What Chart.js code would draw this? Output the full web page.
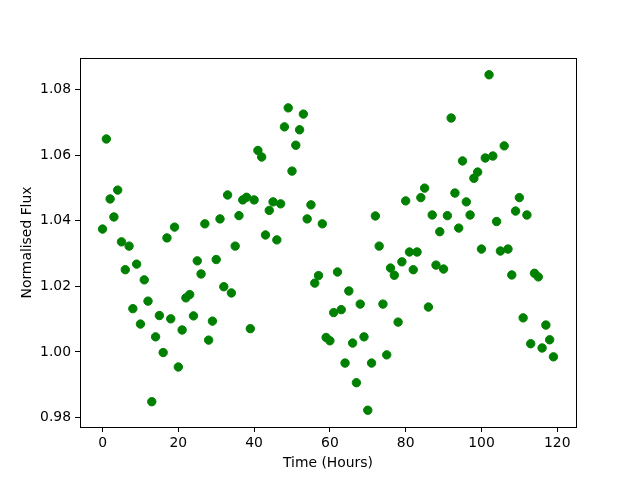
<!DOCTYPE html>
<html>
<head>
<meta charset="utf-8">
<script src="https://cdn.jsdelivr.net/npm/chart.js@4.4.1/dist/chart.umd.min.js"></script>
<style>
  html, body { margin: 0; padding: 0; background: #fff; }
  #wrap { width: 640px; height: 480px; }
</style>
</head>
<body>
<div id="wrap"><canvas id="c" width="640" height="480"></canvas></div>
<script>
const hours = [0,1,2,3,4,5,6,7,8,9,10,11,12,13,14,15,16,17,18,19,
  20,21,22,23,24,25,26,27,28,29,30,31,32,33,34,35,36,37,38,39,
  40,41,42,43,44,45,46,47,48,49,50,51,52,53,54,55,56,57,58,59,
  60,61,62,63,64,65,66,67,68,69,70,71,72,73,74,75,76,77,78,79,
  80,81,82,83,84,85,86,87,88,89,90,91,92,93,94,95,96,97,98,99,
  100,101,102,103,104,105,106,107,108,109,110,111,112,113,114,115,116,117,118,119];

const flux = [1.0375,1.0650,1.0467,1.0412,1.0494,1.0336,1.0251,1.0323,1.0132,1.0268,
  1.0085,1.0220,1.0155,0.9848,1.0046,1.0111,0.9998,1.0348,1.0101,1.0381,
  0.9954,1.0067,1.0165,1.0175,1.0110,1.0278,1.0238,1.0391,1.0036,1.0094,
  1.0282,1.0406,1.0199,1.0479,1.0180,1.0323,1.0416,1.0464,1.0472,1.0071,
  1.0464,1.0615,1.0595,1.0357,1.0432,1.0458,1.0342,1.0452,1.0687,1.0745,
  1.0552,1.0631,1.0678,1.0726,1.0406,1.0449,1.0210,1.0233,1.0391,1.0044,
  1.0034,1.0120,1.0244,1.0129,0.9966,1.0186,1.0027,0.9906,1.0146,1.0046,
  0.9822,0.9966,1.0415,1.0323,1.0146,0.9991,1.0256,1.0234,1.0091,1.0275,
  1.0461,1.0305,1.0251,1.0305,1.0471,1.0500,1.0137,1.0418,1.0265,1.0367,
  1.0253,1.0416,1.0714,1.0485,1.0378,1.0583,1.0458,1.0418,1.0530,1.0549,
  1.0314,1.0592,1.0846,1.0598,1.0398,1.0308,1.0629,1.0314,1.0235,1.0430,
  1.0471,1.0104,1.0418,1.0025,1.0240,1.0229,1.0012,1.0082,1.0037,0.9985];

const xTicks = [0, 20, 40, 60, 80, 100, 120];
const yTicks = [0.98, 1.00, 1.02, 1.04, 1.06, 1.08];

const points = hours.map((h, i) => ({ x: h, y: flux[i] }));

Chart.defaults.font.family = '"DejaVu Sans", sans-serif';
Chart.defaults.font.size = 13.9;
Chart.defaults.color = '#000';

const frame = {
  id: 'frame',
  afterDraw(chart) {
    const a = chart.chartArea, ctx = chart.ctx;
    ctx.save();
    ctx.strokeStyle = '#000';
    ctx.lineWidth = 1;
    ctx.strokeRect(Math.round(a.left) + 0.5, Math.round(a.top) + 0.5,
      Math.round(a.right - a.left), Math.round(a.bottom - a.top));
    ctx.restore();
  }
};

new Chart(document.getElementById('c'), {
  type: 'scatter',
  data: {
    datasets: [{
      data: points,
      backgroundColor: '#008000',
      borderColor: '#008000',
      borderWidth: 1,
      pointRadius: 4.2,
      pointHoverRadius: 4.2
    }]
  },
  options: {
    responsive: false,
    animation: false,
    events: [],
    layout: { padding: { left: 0, right: 64, top: 58, bottom: 0 } },
    plugins: { legend: { display: false }, tooltip: { enabled: false } },
    scales: {
      x: {
        type: 'linear',
        min: -5.95,
        max: 124.95,
        afterBuildTicks(s) { s.ticks = xTicks.map(v => ({ value: v })); },
        afterFit(s) { s.height = 53; },
        grid: { drawOnChartArea: false, drawTicks: true, tickLength: 5, color: '#000' },
        border: { display: true, color: '#000' },
        ticks: { padding: 3, maxRotation: 0, autoSkip: false, callback: v => String(v) },
        title: { display: true, text: 'Time (Hours)', padding: { top: 0, bottom: 8 } }
      },
      y: {
        type: 'linear',
        min: 0.97708,
        max: 1.08972,
        afterBuildTicks(s) { s.ticks = yTicks.map(v => ({ value: v })); },
        afterFit(s) { s.width = 80; },
        grid: { drawOnChartArea: false, drawTicks: true, tickLength: 5, color: '#000' },
        border: { display: true, color: '#000' },
        ticks: { padding: 4, autoSkip: false, callback: v => Number(v).toFixed(2) },
        title: { display: true, text: 'Normalised Flux', padding: { top: 19, bottom: 0 } }
      }
    }
  },
  plugins: [frame]
});
</script>
</body>
</html>
